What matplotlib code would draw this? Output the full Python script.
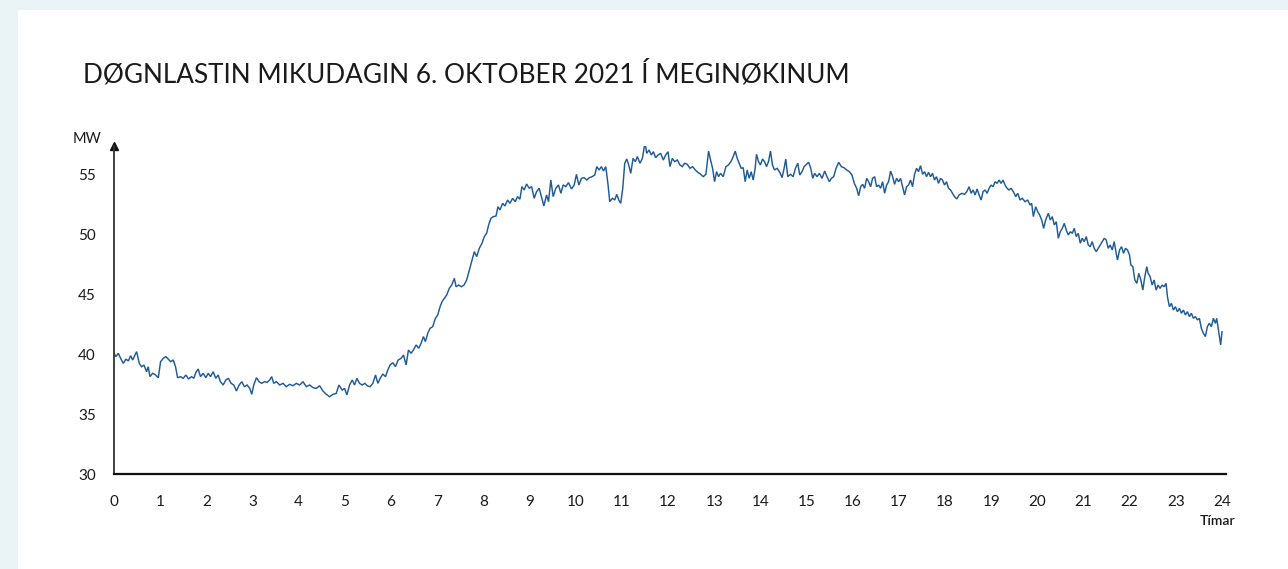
import matplotlib
matplotlib.use("Agg")
import matplotlib.pyplot as plt
from matplotlib.patches import Rectangle

# ---- data ----
hours = [
    0.000, 0.043, 0.094, 0.144, 0.202, 0.259, 0.310, 0.360, 0.404, 0.454, 0.490, 0.548, 0.598, 0.649,
    0.706, 0.742, 0.778, 0.836, 0.886, 0.959, 1.009, 1.067, 1.124, 1.175, 1.225, 1.283, 1.333, 1.377,
    1.441, 1.499, 1.557, 1.614, 1.679, 1.730, 1.773, 1.823, 1.874, 1.932, 1.989, 2.040, 2.090, 2.148,
    2.205, 2.256, 2.306, 2.364, 2.422, 2.479, 2.537, 2.595, 2.652, 2.710, 2.768, 2.825, 2.883, 2.941,
    2.984, 3.027, 3.085, 3.142, 3.200, 3.258, 3.315, 3.373, 3.416, 3.459, 3.517, 3.589, 3.661, 3.733,
    3.805, 3.877, 3.950, 4.022, 4.094, 4.166, 4.238, 4.310, 4.382, 4.454, 4.526, 4.598, 4.670, 4.742,
    4.814, 4.872,
    4.944, 4.994, 5.045, 5.102, 5.160, 5.210, 5.261, 5.318, 5.376, 5.434, 5.491, 5.549, 5.607, 5.664,
    5.715, 5.765, 5.823, 5.881, 5.931, 5.982, 6.039, 6.097, 6.155, 6.219, 6.270, 6.327, 6.378, 6.436,
    6.486, 6.544, 6.601, 6.652, 6.702, 6.745, 6.796, 6.846, 6.904, 6.962, 7.012, 7.063, 7.106, 7.156,
    7.207, 7.264, 7.315, 7.372, 7.409, 7.466, 7.524, 7.581, 7.639, 7.697, 7.747, 7.805, 7.855, 7.913,
    7.971, 8.021, 8.072, 8.115, 8.165, 8.216, 8.274, 8.317, 8.360, 8.418, 8.468, 8.526, 8.576, 8.634,
    8.691, 8.742, 8.792, 8.836, 8.886, 8.937, 8.994, 9.045, 9.102, 9.153, 9.210, 9.268, 9.311, 9.369,
    9.412, 9.462, 9.513, 9.570, 9.628, 9.679, 9.729, 9.787, 9.844,
    9.910, 9.967, 10.018, 10.068, 10.126, 10.183, 10.241, 10.299, 10.356, 10.414, 10.457, 10.508,
    10.558, 10.602, 10.652, 10.702, 10.738, 10.796, 10.846, 10.890, 10.933, 10.976, 11.020, 11.063,
    11.106, 11.149, 11.193, 11.243, 11.293, 11.337, 11.394, 11.445, 11.502, 11.538, 11.589, 11.639,
    11.683, 11.733, 11.784, 11.841, 11.899, 11.949, 12.000, 12.043, 12.093, 12.144, 12.202, 12.259,
    12.310, 12.360, 12.418, 12.476, 12.533, 12.591, 12.648, 12.706, 12.764, 12.821, 12.879, 12.922,
    12.966, 13.009, 13.052, 13.095, 13.139, 13.196, 13.254, 13.311, 13.369, 13.412, 13.456, 13.499,
    13.542, 13.585, 13.629, 13.672, 13.715, 13.758, 13.802, 13.845, 13.888, 13.917, 13.960, 14.003,
    14.047, 14.090, 14.133, 14.177, 14.220, 14.263, 14.306, 14.364, 14.422, 14.472, 14.522, 14.551,
    14.594, 14.652, 14.710,
    14.760, 14.811, 14.854, 14.904, 14.948, 14.998, 15.048, 15.092, 15.135, 15.178, 15.229, 15.279,
    15.337, 15.394, 15.445, 15.495, 15.539, 15.589, 15.640, 15.697, 15.755, 15.812, 15.870, 15.928,
    15.985, 16.036, 16.086, 16.130, 16.173, 16.216, 16.259, 16.303, 16.346, 16.389, 16.432, 16.476,
    16.519, 16.562, 16.605, 16.649, 16.692, 16.735, 16.778, 16.822, 16.865, 16.908, 16.951, 16.995,
    17.038, 17.081, 17.124, 17.168, 17.211, 17.254, 17.297, 17.341, 17.384, 17.427, 17.470, 17.514,
    17.557, 17.600, 17.643, 17.686, 17.730, 17.773, 17.816, 17.859, 17.903, 17.946, 17.989, 18.032,
    18.076, 18.119, 18.162, 18.205, 18.256, 18.306, 18.364, 18.421, 18.472, 18.522, 18.566, 18.609,
    18.652, 18.695, 18.739, 18.782, 18.825, 18.868, 18.912, 18.955, 18.998, 19.041, 19.084, 19.128,
    19.171, 19.214, 19.257, 19.301, 19.344, 19.387,
    19.432, 19.481, 19.532, 19.575, 19.625, 19.676, 19.733, 19.791, 19.841, 19.877, 19.914, 19.964,
    20.007, 20.050, 20.094, 20.137, 20.180, 20.238, 20.281, 20.324, 20.368, 20.411, 20.454, 20.497,
    20.541, 20.584, 20.627, 20.670, 20.714, 20.757, 20.800, 20.843, 20.887, 20.930, 20.973, 21.016,
    21.060, 21.103, 21.146, 21.189, 21.232, 21.276, 21.319, 21.362, 21.405, 21.449, 21.492, 21.535,
    21.578, 21.622, 21.665, 21.708, 21.737, 21.781, 21.824, 21.867, 21.910, 21.954, 21.997, 22.025,
    22.069, 22.112, 22.155, 22.198, 22.242, 22.285, 22.328, 22.371, 22.400, 22.443, 22.486, 22.530,
    22.573, 22.616, 22.659, 22.703, 22.746, 22.789, 22.818, 22.861, 22.905, 22.948, 22.991, 23.034,
    23.078, 23.121, 23.164, 23.207, 23.251, 23.294, 23.337, 23.380, 23.424, 23.467, 23.510, 23.553,
    23.597, 23.640, 23.683, 23.726, 23.770, 23.813, 23.856, 23.885, 23.928, 23.971, 24.000,
]

load_mw = [
    40.09, 39.81, 40.09, 39.67, 39.25, 39.61, 39.45, 39.89, 39.53, 39.95, 40.23, 39.25, 38.97, 39.11,
    38.55, 38.97, 38.14, 38.42, 38.33, 38.05, 39.39, 39.67, 39.81, 39.61, 39.39, 39.53, 38.97, 38.05,
    38.14, 38.00, 38.28, 37.94, 38.14, 38.00, 38.50, 38.78, 38.14, 38.42, 38.05, 38.42, 38.14, 38.55,
    38.00, 38.28, 37.72, 37.44, 37.86, 38.00, 37.58, 37.44, 36.94, 37.44, 37.72, 37.30, 37.44, 37.16,
    36.66, 37.44, 38.05, 37.72, 37.58, 37.72, 37.66, 37.86, 38.14, 37.58, 37.72, 37.44, 37.58, 37.30,
    37.50, 37.38, 37.58, 37.44, 37.72, 37.30, 37.44, 37.22, 37.16, 37.38, 36.94, 36.66, 36.46, 36.66,
    36.74, 37.44,
    37.02, 37.16, 36.61, 37.44, 37.86, 37.44, 38.00, 37.58, 37.44, 37.58, 37.36, 37.30, 37.58, 38.28,
    37.58, 38.00, 38.36, 38.14, 38.70, 39.12, 39.31, 38.98, 39.53, 39.67, 39.95, 39.12, 40.37, 40.09,
    40.37, 40.79, 40.51, 40.93, 41.49, 41.07, 41.76, 42.18, 42.32, 43.02, 43.30, 43.99, 44.41, 44.69,
    44.97, 45.53, 45.80, 46.36, 45.66, 45.80, 45.66, 45.80, 46.22, 47.06, 47.75, 48.59, 48.17, 48.87,
    49.29, 49.85, 50.13, 50.82, 51.38, 51.52, 51.57, 52.35, 52.08, 52.63, 52.41, 52.91, 52.63, 53.05,
    52.77, 53.19, 52.97, 54.03, 53.75, 54.25, 53.89, 54.03, 53.05, 53.61, 53.89, 53.05, 52.41, 53.33,
    52.77, 54.58, 53.19, 53.89, 54.17, 53.47, 54.17, 54.03, 54.36,
    53.83, 54.16, 55.06, 54.16, 54.72, 54.78, 54.58, 54.78, 54.86, 55.00, 55.70, 55.42,
    55.70, 55.33, 55.70, 54.16, 52.77, 53.05, 52.91, 53.38, 52.91, 52.63, 53.89, 55.98,
    56.34, 55.84, 55.14, 56.39, 56.12, 56.53, 55.98, 56.39, 57.73, 56.81, 57.09, 56.67,
    56.95, 56.45, 56.67, 56.81, 56.25, 56.67, 56.95, 55.70, 56.39, 56.12, 56.25, 55.84,
    55.70, 55.98, 55.89, 55.56, 55.70, 55.42, 55.22, 55.06, 54.86, 55.06, 57.00, 56.25,
    55.56, 54.44, 55.28, 54.86, 55.14, 54.86, 55.70, 55.84, 56.17, 56.53, 57.00, 56.39,
    55.98, 55.56, 55.61, 54.44, 55.42, 54.72, 55.28, 54.58, 55.56, 56.73, 56.12, 55.84,
    56.34, 56.12, 55.70, 56.12, 57.00, 55.84, 55.42, 55.56, 55.22, 54.78, 55.70, 56.34,
    54.86, 55.06, 54.86,
    55.56, 55.98, 55.00, 55.28, 55.70, 55.89, 56.06, 55.56, 54.72, 55.14, 54.86, 55.14,
    54.72, 55.33, 54.86, 54.44, 54.72, 54.86, 55.56, 56.06, 55.70, 55.61, 55.42, 55.28,
    55.00, 54.30, 53.89, 53.27, 54.02, 54.22, 53.89, 54.72, 54.44, 54.02, 54.72, 54.86,
    54.02, 54.16, 53.89, 54.44, 53.47, 54.16, 54.44, 55.33, 54.86, 54.22, 54.72, 54.44,
    54.72, 54.02, 53.33, 54.02, 54.16, 54.58, 54.02, 55.06, 55.56, 55.28, 55.78, 55.06,
    55.28, 54.86, 55.22, 54.86, 55.14, 54.58, 54.86, 54.30, 54.72, 54.58, 54.16, 54.44,
    53.89, 53.75, 53.47, 53.19, 53.00, 53.33, 53.47, 53.38, 53.61, 54.02, 53.47, 53.75,
    53.33, 53.83, 53.33, 52.91, 53.61, 53.75, 53.47, 53.89, 54.16, 54.02, 54.44, 54.30,
    54.58, 54.30, 54.58, 54.16, 53.89, 53.75,
    53.89, 53.61, 53.19, 53.47, 52.91, 53.05, 52.77, 52.91, 52.49, 52.63, 51.52, 52.35,
    51.94, 51.66, 51.24, 50.54, 51.24, 51.80, 51.24, 51.52, 50.82, 51.10, 49.71, 50.26,
    50.54, 50.96, 50.40, 49.99, 50.26, 50.12, 50.54, 49.85, 50.12, 49.29, 49.71, 49.43,
    49.85, 49.15, 49.01, 49.43, 48.87, 48.59, 48.87, 49.15, 49.43, 49.71, 49.57, 48.87,
    49.15, 48.73, 49.43, 48.45, 47.89, 48.73, 49.01, 48.45, 48.87, 48.73, 48.31, 47.48,
    47.34, 46.22, 45.94, 46.78, 46.22, 45.38, 46.50, 47.34, 46.78, 46.50, 45.80, 46.22,
    45.38, 45.80, 45.52, 45.80, 45.66, 45.94, 44.83, 43.99, 44.27, 43.71, 43.99, 43.57,
    43.85, 43.44, 43.71, 43.30, 43.57, 43.16, 43.44, 43.02, 43.16, 42.88, 43.02, 42.18,
    41.76, 41.49, 42.32, 42.60, 42.32, 43.02, 42.60, 43.02, 41.90, 40.79, 41.90,
]

x_ticks = list(range(0, 25))
y_ticks = [30, 35, 40, 45, 50, 55]
title = "DØGNLASTIN MIKUDAGIN 6. OKTOBER 2021 Í MEGINØKINUM"
y_unit = "MW"
x_unit = "Tímar"

# ---- figure ----
W, H = 1288, 569
plt.rcParams['font.family'] = ['Lato', 'DejaVu Sans']
fig = plt.figure(figsize=(W / 100, H / 100), dpi=100)
fig.patch.set_facecolor('#eaf4f6')
fig.patches.append(Rectangle((18 / W, 0), 1 - 18 / W, 1 - 10 / H, transform=fig.transFigure,
                             facecolor='white', edgecolor='none', zorder=-10))

left_px, right_px, bottom_px, top_px = 114, 1226, 474, 146
ax = fig.add_axes([left_px / W, 1 - bottom_px / H, (right_px - left_px) / W, (bottom_px - top_px) / H])
ax.set_zorder(5)
ax.set_facecolor('none')

px_per_hour = (1222 - 114) / 24.0
px_per_mw = (474 - 175) / 25.0
ax.set_xlim(0, (right_px - left_px) / px_per_hour)
ax.set_ylim(30, 30 + (bottom_px - top_px) / px_per_mw)

ax.plot(hours, load_mw, color='#1f5b98', lw=1.05, solid_joinstyle='miter')

for s in ['top', 'right']:
    ax.spines[s].set_visible(False)
ax.spines['left'].set_color('#333333')
ax.spines['left'].set_linewidth(1.3)
ax.spines['bottom'].set_color('#111111')
ax.spines['bottom'].set_linewidth(1.6)

ax.set_xticks(x_ticks)
ax.set_xticklabels([str(t) for t in x_ticks])
ax.set_yticks(y_ticks)
ax.set_yticklabels([str(t) for t in y_ticks])
ax.tick_params(axis='both', length=0, labelsize=11, colors='#1a1a1a')
ax.tick_params(axis='x', pad=15)
ax.tick_params(axis='y', pad=13)

# arrow head on y-axis
ax.plot([0], [1], marker='^', markersize=6, color='#111111', transform=ax.transAxes, clip_on=False)

fig.text(83 / W, 1 - 82 / H, title, fontsize=18.8, color='#1a1a1a', ha='left', va='baseline')
fig.text(101 / W, 1 - 139 / H, y_unit, fontsize=10.5, color='#1a1a1a', ha='right', va='center')
fig.text(1218 / W, 1 - 521 / H, x_unit, fontsize=10, color='#1a1a1a', ha='center', va='center',
         fontweight='semibold')

fig.savefig('out.png', dpi=100, facecolor=fig.get_facecolor())
